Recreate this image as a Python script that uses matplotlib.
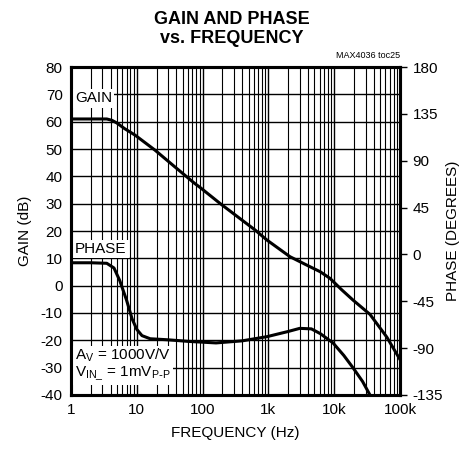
import numpy as np
import matplotlib
matplotlib.use('Agg')
import matplotlib.pyplot as plt
from matplotlib.ticker import FixedLocator, NullFormatter

plt.rcParams['font.family'] = ['Liberation Sans Narrow', 'Liberation Sans', 'DejaVu Sans']
plt.rcParams['axes.unicode_minus'] = False

# gain curve (dB)
gain_f = [1, 2, 3.5, 4.2, 5, 6.5, 9.4, 18.9, 40, 76, 91, 184, 350, 626, 950, 2130,
          4000, 6130, 8620, 13000, 19400, 35000, 63000, 100000]
gain_db = [61, 61, 61, 60.5, 59.5, 57.5, 55.1, 49.6, 43, 37.4, 36, 30.1, 25, 20.4, 16.7, 10.6,
           7.3, 5.1, 2.7, -1.5, -5.3, -10.5, -18.8, -27]

# phase curve (degrees)
phase_f = [1, 2, 3.5, 4.5, 5.5, 7, 8.5, 10, 12, 16, 30, 60, 160, 400, 950, 2000, 3000,
           4500, 6130, 9600, 14000, 19400, 27000, 35000]
phase_deg = [-8, -8, -8.5, -13, -25, -44, -62, -72, -78, -81, -82, -83.5, -85, -83, -79,
             -74, -71, -71.5, -76, -85, -97, -109, -122, -135]

gain_ticks = list(range(-40, 90, 10))
phase_ticks = [180, 135, 90, 45, 0, -45, -90, -135]
freq_ticks = [1, 10, 100, 1000, 10000, 100000]
freq_labels = ['1', '10', '100', '1k', '10k', '100k']

fig = plt.figure(figsize=(4.64, 4.58), dpi=100)
ax = fig.add_axes([0.153, 0.1376, 0.709, 0.716])

ax.set_xscale('log')
ax.set_xlim(1, 100000)
ax.set_ylim(-40, 80)
ax.set_yticks(gain_ticks)
ax.set_xticks(freq_ticks)
ax.set_xticklabels(freq_labels)
ax.xaxis.set_minor_locator(FixedLocator([m * 10 ** d for d in range(5) for m in range(2, 10)]))
ax.xaxis.set_minor_formatter(NullFormatter())
ax.tick_params(axis='both', which='both', length=0, labelsize=11, pad=6)
ax.grid(True, which='major', axis='both', color='black', linewidth=1.0)
ax.grid(True, which='minor', axis='x', color='black', linewidth=0.8)
for s in ax.spines.values():
    s.set_linewidth(2.2)

ax.plot(gain_f, gain_db, color='black', linewidth=2.2, zorder=5)

ax2 = ax.twinx()
ax2.set_ylim(-135, 180)
ax2.set_yticks(phase_ticks)
ax2.tick_params(axis='y', direction='out', length=5, width=1, labelsize=11, pad=4)
for s in ax2.spines.values():
    s.set_linewidth(2.2)
ax2.plot(phase_f, phase_deg, color='black', linewidth=2.2, zorder=5, clip_on=True)

ax.set_xlabel('FREQUENCY (Hz)', fontsize=11, labelpad=6)
ax.set_ylabel('GAIN (dB)', fontsize=11, labelpad=6)
ax2.set_ylabel('PHASE (DEGREES)', fontsize=11, labelpad=2)

box = dict(facecolor='white', edgecolor='none', pad=1.5)
ax.text(1.15, 68.5, 'GAIN', fontsize=11, ha='left', va='center', bbox=box, zorder=6)
ax.text(1.15, 13.5, 'PHASE', fontsize=11, ha='left', va='center', bbox=box, zorder=6)
ax.text(1.15, -29, '$\\mathregular{A_V}$ = 1000V/V\n$\\mathregular{V_{IN\\_}}$ = 1mV$\\mathregular{_{P\\text{-}P}}$',
        fontsize=11, ha='left', va='center', linespacing=1.1, bbox=box, zorder=6)

fig.text(0.862, 0.868, 'MAX4036 toc25', fontsize=6.5, ha='right', va='bottom')
fig.text(0.5, 0.975, 'GAIN AND PHASE\nvs. FREQUENCY', fontsize=13, fontweight='bold',
         ha='center', va='top', linespacing=1.15)

fig.savefig('out.png', dpi=100)
